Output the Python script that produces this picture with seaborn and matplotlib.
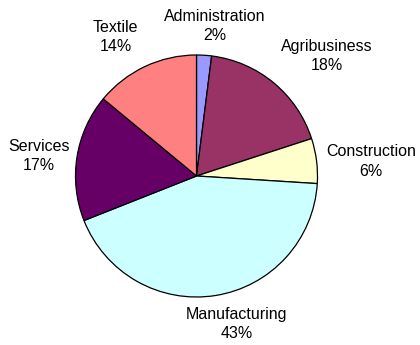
import matplotlib
matplotlib.use("Agg")
import matplotlib.pyplot as plt
import seaborn as sns

sectors = ["Administration", "Agribusiness", "Construction", "Manufacturing", "Services", "Textile"]
shares = [2, 18, 6, 43, 17, 14]
colors = ["#9999FF", "#993366", "#FFFFCC", "#CCFFFF", "#660066", "#FF8080"]

# label anchor points (in units of the pie radius)
label_xy = [(0.15, 1.24), (1.08, 0.99), (1.44, 0.12), (0.33, -1.22), (-1.30, 0.165), (-0.67, 1.15)]

sns.set_theme(style="white")
plt.rcParams["font.family"] = ["Liberation Sans", "DejaVu Sans"]

fig = plt.figure(figsize=(4.2, 3.45), dpi=100)
r_px = 121
cx, cy = 196.5, 176
ax = fig.add_axes([(cx - r_px) / 420, (345 - cy - r_px) / 345, 2 * r_px / 420, 2 * r_px / 345])

wedges, _ = ax.pie(shares, colors=colors, startangle=90, counterclock=False,
                   wedgeprops=dict(edgecolor="black", linewidth=0.9))
ax.set_xlim(-1, 1)
ax.set_ylim(-1, 1)
ax.set_aspect("equal")
ax.axis("off")

for name, val, (x, y) in zip(sectors, shares, label_xy):
    ax.text(x, y, f"{name}\n{val}%", ha="center", va="center", fontsize=11.5,
            color="black", linespacing=1.35, clip_on=False)

fig.savefig("out.png", dpi=100)
